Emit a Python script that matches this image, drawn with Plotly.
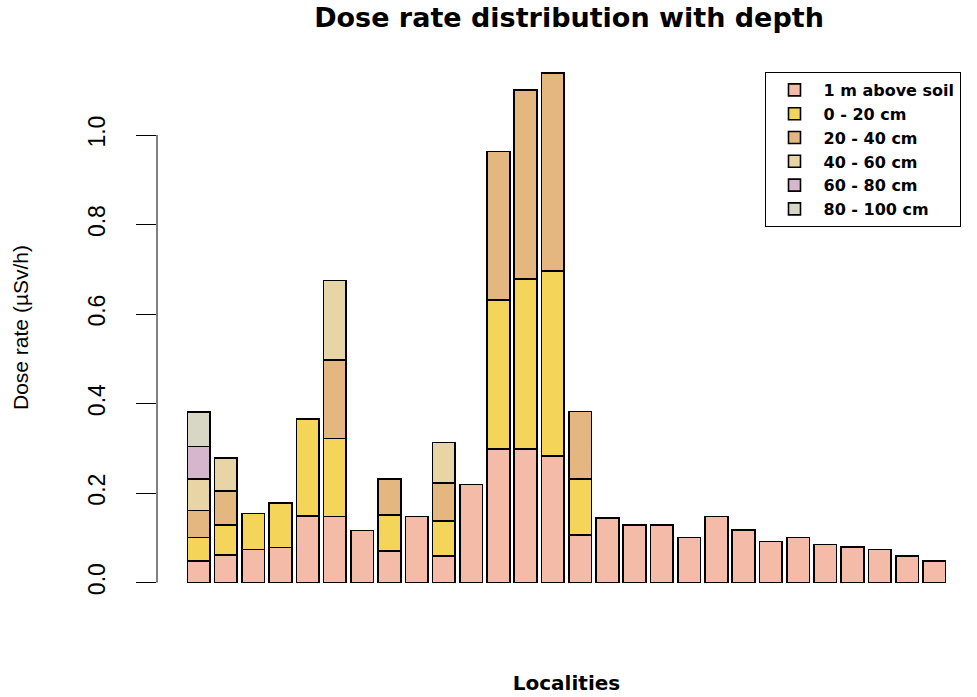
import plotly.graph_objects as go

localities = list(range(1, 29))

above_soil = [0.048, 0.061, 0.074, 0.078, 0.149, 0.148, 0.116, 0.071, 0.148, 0.059,
              0.219, 0.299, 0.299, 0.283, 0.107, 0.144, 0.129, 0.129, 0.101, 0.148,
              0.118, 0.092, 0.101, 0.085, 0.079, 0.074, 0.059, 0.048]
d0_20 = [0.053, 0.068, 0.080, 0.100, 0.217, 0.174, None, 0.080, None, 0.079,
         None, 0.332, 0.380, 0.413, 0.124] + [None] * 13
d20_40 = [0.060, 0.076, None, None, None, 0.175, None, 0.080, None, 0.085,
          None, 0.332, 0.422, 0.443, 0.151] + [None] * 13
d40_60 = [0.070, 0.074, None, None, None, 0.178, None, None, None, 0.090] + [None] * 18
d60_80 = [0.073] + [None] * 27
d80_100 = [0.077] + [None] * 27

series_names = ["1 m above soil", "0 - 20 cm", "20 - 40 cm", "40 - 60 cm", "60 - 80 cm", "80 - 100 cm"]
series_vals = [above_soil, d0_20, d20_40, d40_60, d60_80, d80_100]
colors = ["#F4BBA8", "#F5D45A", "#E4B780", "#E8D5A5", "#D6B6CC", "#D8D7C6"]

W, H = 977, 697

fig = go.Figure()
for name, vals, col in zip(series_names, series_vals, colors):
    fig.add_trace(go.Bar(
        x=localities, y=vals, name=name,
        marker=dict(color=col, line=dict(color="black", width=1.6)),
    ))

fig.update_layout(
    width=W, height=H,
    barmode="stack", bargap=0.1667,
    plot_bgcolor="white", paper_bgcolor="white",
    margin=dict(l=157, r=1, t=52, b=94),
    title=dict(text="<b>Dose rate distribution with depth</b>",
               font=dict(family="DejaVu Sans", size=27, color="black"),
               x=(569 / W), xanchor="center", y=1 - 18 / H, yanchor="middle"),
    legend=dict(x=(862.5 - 157) / 819, xanchor="center", y=(603 - 72) / 551, yanchor="top",
                bordercolor="black", borderwidth=1, bgcolor="white",
                traceorder="normal", itemwidth=48,
                font=dict(family="DejaVu Sans", size=16, color="black", weight="bold")),
    font=dict(family="Liberation Sans", color="black"),
)

fig.update_xaxes(range=[localities[0] - 1.53, localities[-1] + 1.53],
                 showticklabels=False, ticks="", showgrid=False, zeroline=False, showline=False,
                 title=dict(text="<b>Localities</b>", standoff=72,
                            font=dict(family="DejaVu Sans", size=20, color="black")),
                 automargin=False)
fig.update_yaxes(range=[-0.0456, 1.1856], tickvals=[0, 0.2, 0.4, 0.6, 0.8, 1.0],
                 ticktext=["0.0", "0.2", "0.4", "0.6", "0.8", "1.0"],
                 ticks="outside", ticklen=20, tickcolor="black", tickwidth=1,
                 tickangle=-90, ticklabelstandoff=22,
                 tickfont=dict(family="Liberation Sans", size=23, color="black"),
                 showgrid=False, zeroline=False, showline=False,
                 title=dict(text="Dose rate (µSv/h)", standoff=49,
                            font=dict(family="Liberation Sans", size=21, color="black")),
                 automargin=False)

fig.add_shape(type="line", xref="paper", yref="y", x0=0, x1=0, y0=0, y1=1.0,
              line=dict(color="black", width=1))

fig.write_html("out.html", config={"displayModeBar": False},
               post_script="document.body.style.margin='0';document.body.style.overflow='hidden';")
